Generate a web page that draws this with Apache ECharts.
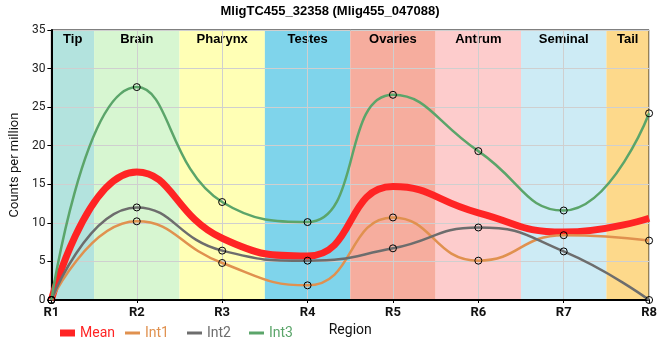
<!DOCTYPE html>
<html><head><meta charset="utf-8">
<script src="https://cdn.jsdelivr.net/npm/echarts@6/dist/echarts.min.js"></script>
<style>html,body{margin:0;padding:0;background:#fff}#c{width:660px;height:360px}</style>
</head><body><div id="c"></div>
<script>
var categories = ['R1','R2','R3','R4','R5','R6','R7','R8'];
var regions = ['Tip','Brain','Pharynx','Testes','Ovaries','Antrum','Seminal','Tail'];
var regionColors = ['#b3e3de','#d7f6d1','#ffffb5','#7fd4eb','#f6ad9e','#fdcccc','#cdebf5','#fdd98b'];
var meanVals = [0, 16.6, 8.0, 5.7, 14.7, 11.3, 8.8, 10.6];
var int1 = [0, 10.2, 4.8, 1.9, 10.7, 5.1, 8.4, 7.7];
var int2 = [0, 12.0, 6.4, 5.1, 6.7, 9.4, 6.3, 0];
var int3 = [0, 27.6, 12.7, 10.1, 26.6, 19.3, 11.6, 24.2];
var yTicks = [0, 5, 10, 15, 20, 25, 30, 35];

var colMean = '#ff2424', col1 = '#e0914f', col2 = '#6d6d6d', col3 = '#5ba56a';
var n = categories.length;
function xy(arr){ return arr.map(function(v,i){ return [i+1, v]; }); }
var bandData = regions.map(function(r,i){
  return [Math.max(1, i+0.5), Math.min(n, i+1.5), i];
});
function lineSeries(name, arr, color, width, markers){
  return {
    name: name, type: 'line', data: xy(arr), smooth: 0.5,
    lineStyle: {color: color, width: width},
    itemStyle: {color: 'rgba(0,0,0,0)', borderColor: '#000', borderWidth: 1},
    symbol: markers ? 'circle' : 'none', symbolSize: 7, showSymbol: markers,
    z: 3, animation: false, silent: true
  };
}
function legItem(name, color){
  return {name: name, icon: 'rect', itemStyle: {color: color, borderWidth: 0, borderColor: 'rgba(0,0,0,0)'}};
}
var chart = echarts.init(document.getElementById('c'), null, {renderer: 'canvas'});
chart.setOption({
  animation: false,
  title: {text: 'MligTC455_32358 (Mlig455_047088)', left: 'center', top: 0,
    textStyle: {fontFamily: 'Liberation Sans', fontSize: 13, fontWeight: 'bold', color: '#000'}},
  grid: {left: 50, right: 10, top: 30, bottom: 60, show: true, borderColor: '#000', borderWidth: 1, backgroundColor: 'transparent'},
  legend: [
    {data: [legItem('Mean', colMean)],
     left: 55, top: 321, itemWidth: 15, itemHeight: 7, itemGap: 17,
     textStyle: {fontFamily: 'Roboto', fontSize: 14, color: colMean}, selectedMode: false},
    {data: [legItem('Int1', col1), legItem('Int2', col2), legItem('Int3', col3)],
     left: 120, top: 321, itemWidth: 15, itemHeight: 3, itemGap: 18, selectedMode: false,
     formatter: function(name){ return '{' + name + '|' + name + '}'; },
     textStyle: {fontFamily: 'Roboto', fontSize: 14, rich: {
       Int1: {color: col1, fontFamily: 'Roboto', fontSize: 14},
       Int2: {color: col2, fontFamily: 'Roboto', fontSize: 14},
       Int3: {color: col3, fontFamily: 'Roboto', fontSize: 14}}}}
  ],
  xAxis: {
    type: 'value', min: 1, max: n, interval: 1,
    name: 'Region', nameLocation: 'middle', nameGap: 23,
    nameTextStyle: {fontFamily: 'Roboto', fontSize: 14, color: '#111'},
    axisLine: {show: true, lineStyle: {color: '#000', width: 2}},
    axisTick: {show: true, length: 3, lineStyle: {color: '#000'}},
    axisLabel: {formatter: function(v){ return categories[v-1] || ''; },
      fontFamily: 'Roboto', fontSize: 13, fontWeight: 'bold', color: '#111', margin: 6},
    splitLine: {show: true, lineStyle: {color: '#cfcfcf', width: 1}}
  },
  yAxis: {
    type: 'value', min: yTicks[0], max: yTicks[yTicks.length-1], interval: 5,
    name: 'Counts per million', nameLocation: 'middle', nameGap: 23,
    nameTextStyle: {fontFamily: 'Roboto', fontSize: 13, color: '#111'},
    axisLine: {show: true, lineStyle: {color: '#000', width: 2}},
    axisTick: {show: true, length: 4, lineStyle: {color: '#000'}},
    axisLabel: {fontFamily: 'Roboto', fontSize: 12, color: '#222', margin: 6},
    splitLine: {show: true, lineStyle: {color: '#cfcfcf', width: 1}}
  },
  series: [
    {
      type: 'custom', z: -1, silent: true, data: bandData,
      renderItem: function(params, api){
        var s = api.value(0), e = api.value(1), i = api.value(2);
        var p1 = api.coord([s, yTicks[yTicks.length-1]]);
        var p2 = api.coord([e, yTicks[0]]);
        return {type: 'group', children: [
          {type: 'rect', shape: {x: p1[0], y: p1[1], width: p2[0]-p1[0], height: p2[1]-p1[1]},
           style: {fill: regionColors[i]}},
          {type: 'text', x: (p1[0]+p2[0])/2, y: p1[1] + 3, z2: 10,
           style: {text: regions[i], textAlign: 'center', textVerticalAlign: 'top',
             font: 'bold 13px "Liberation Sans", Arial, sans-serif', fill: '#000'}}
        ]};
      }
    },
    lineSeries('Mean', meanVals, colMean, 7, false),
    lineSeries('Int1', int1, col1, 2.5, true),
    lineSeries('Int2', int2, col2, 2.5, true),
    lineSeries('Int3', int3, col3, 2.5, true)
  ]
});
</script></body></html>
